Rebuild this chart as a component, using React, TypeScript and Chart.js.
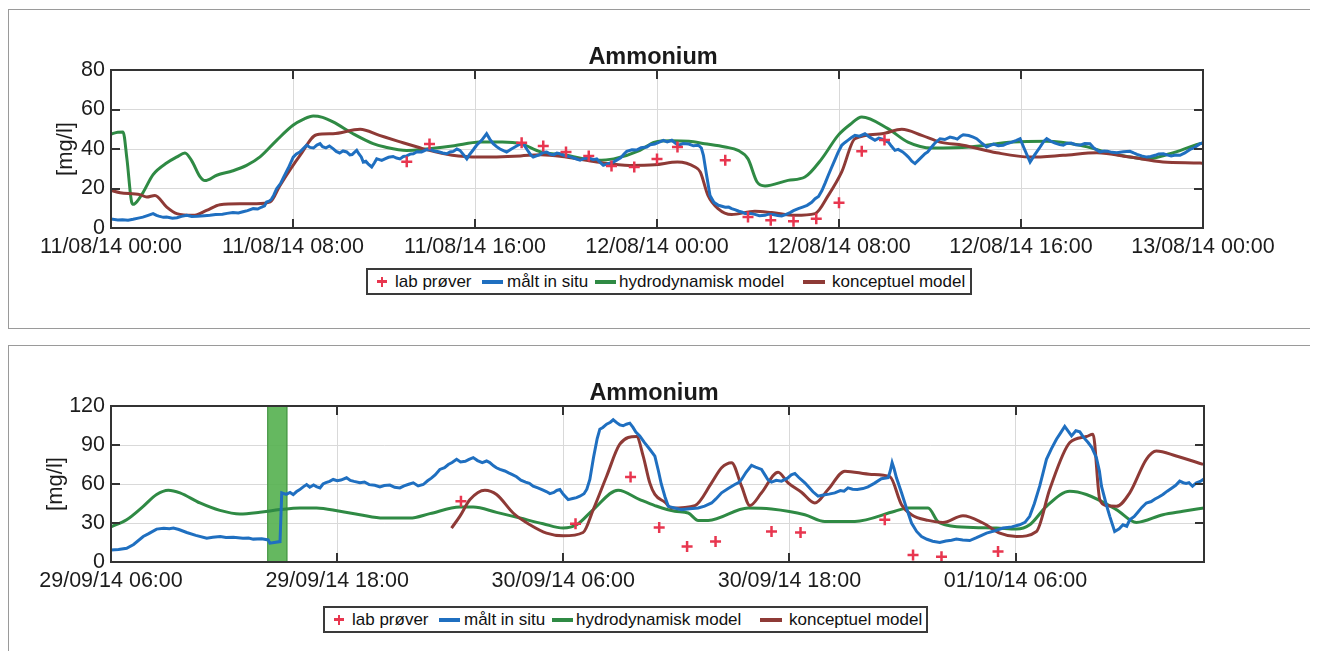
import React, { useEffect, useRef } from "react";
import { Chart, registerables } from "chart.js";

Chart.register(...registerables);

// ---------- shared labels ----------
const legendLabels = ["lab prøver", "målt in situ", "hydrodynamisk model", "konceptuel model"];
const chartTitle = "Ammonium";
const yAxisLabel = "[mg/l]";

// ---------- top chart: [hours since 11/08/14 00:00, mg/l] ----------
const topXTicks = [0, 8, 16, 24, 32, 40, 48];
const topXTickLabels = [
  "11/08/14 00:00", "11/08/14 08:00", "11/08/14 16:00", "12/08/14 00:00",
  "12/08/14 08:00", "12/08/14 16:00", "13/08/14 00:00",
];
const topYTicks = [0, 20, 40, 60, 80];

const topLab: [number, number][] = [
  [13.0, 33.6], [14.0, 42.5], [18.05, 43.2], [19.0, 41.5], [20.0, 38.5], [21.0, 36.5], [22.0, 31.4], [23.0, 30.9],
  [24.0, 35], [24.9, 41], [27.0, 34.3], [28.0, 5.6], [29.0, 3.9], [30.0, 3.4], [31.0, 4.7], [32.0, 12.8], [33.0, 38.8], [34.0, 44.6],
];

const topInsitu: [number, number][] = [
  [0, 4.5], [0.3, 4.1], [0.5, 4.2], [0.75, 3.9], [0.97, 4.4], [1.2, 5.0], [1.4, 5.5], [1.6, 6.3], [1.85, 7.3], [2.0, 6.4],
  [2.1, 6.0], [2.3, 5.4], [2.45, 5.6], [2.7, 5.0], [2.9, 5.2], [3.1, 5.9], [3.33, 6.4], [3.55, 5.8], [3.8, 5.9], [4.1, 6.2],
  [4.35, 6.4], [4.6, 6.8], [4.9, 7.0], [5.1, 7.4], [5.36, 7.8], [5.6, 7.6], [5.8, 8.2], [6.0, 8.8], [6.25, 9.8], [6.45, 9.6],
  [6.6, 10.5], [6.75, 11.2], [6.84, 13.2], [6.95, 13.6], [7.05, 14.5], [7.15, 16.5], [7.28, 19.9], [7.45, 22.5], [7.6, 26], [7.8, 30.5],
  [8.01, 35.9], [8.15, 37.5], [8.3, 38.5], [8.45, 40.2], [8.6, 41.9], [8.75, 40.8], [8.9, 40.5], [9.05, 42.0], [9.19, 42.7], [9.3, 41.2],
  [9.45, 40.6], [9.6, 41.5], [9.76, 40.2], [9.9, 38.8], [10.05, 38.0], [10.2, 39.0], [10.36, 38.5], [10.5, 37.0], [10.6, 37.2], [10.7, 38.3],
  [10.8, 39.3], [10.9, 37.5], [11.0, 36], [11.09, 33.4], [11.2, 33.8], [11.3, 32.5], [11.46, 30.9], [11.58, 33], [11.68, 35], [11.8, 34.6],
  [11.9, 34.2], [12.04, 35], [12.2, 35.8], [12.4, 36.2], [12.55, 35.4], [12.7, 35], [12.85, 36.2], [13.0, 36.5], [13.15, 37.4], [13.29, 37.6],
  [13.45, 38.6], [13.65, 38.5], [13.85, 39.6], [14.02, 39.8], [14.2, 39.0], [14.4, 38.6], [14.58, 38.0], [14.76, 37.6], [14.9, 38.5], [15.05, 38.8],
  [15.2, 40.0], [15.34, 39.3], [15.5, 37.0], [15.64, 35], [15.75, 37.0], [15.85, 38.5], [15.95, 40.0], [16.07, 41.9], [16.3, 44.5], [16.51, 47.7],
  [16.65, 45.0], [16.8, 42.7], [16.95, 41.2], [17.1, 40], [17.25, 39.2], [17.39, 38.5], [17.6, 40.0], [17.83, 41.5], [17.95, 42.3], [18.12, 42.7],
  [18.3, 39.5], [18.45, 37.0], [18.56, 35.9], [18.7, 36.5], [18.85, 37.2], [19.0, 38.2], [19.15, 38.5], [19.3, 37.4], [19.45, 37], [19.6, 37.9],
  [19.74, 37.6], [19.95, 36.6], [20.2, 36], [20.4, 35.2], [20.62, 34.3], [20.8, 35.2], [21.0, 35.5], [21.2, 34.6], [21.35, 35], [21.5, 33.2],
  [21.64, 31.7], [21.85, 32.6], [22.08, 33.4], [22.25, 34.5], [22.4, 35.5], [22.55, 37.5], [22.67, 38.8], [22.9, 39.6], [23.1, 39.5], [23.3, 40.6],
  [23.55, 41], [23.7, 42.2], [23.9, 42.5], [24.1, 43.5], [24.28, 44.4], [24.45, 43.6], [24.65, 44.4], [24.8, 43.0], [24.94, 41.9], [25.15, 42.8],
  [25.4, 42.5], [25.6, 41.6], [25.82, 41.9], [25.95, 40.5], [26.04, 36.8], [26.18, 26.7], [26.33, 16.5], [26.5, 13.0], [26.7, 11.5], [26.85, 11.0],
  [27.0, 10.5], [27.15, 10.6], [27.28, 9.8], [27.45, 9.2], [27.6, 8.5], [27.75, 8.0], [27.87, 7.3], [28.1, 7.4], [28.3, 6.9], [28.5, 6.2],
  [28.75, 6.4], [28.9, 7.0], [29.1, 6.8], [29.3, 6.3], [29.48, 6.1], [29.65, 6.8], [29.85, 7.8], [30.0, 8.8], [30.21, 9.8], [30.4, 10.6],
  [30.6, 11.5], [30.8, 13.0], [30.95, 14.8], [31.1, 16.0], [31.25, 19], [31.4, 23.0], [31.53, 26.7], [31.65, 30.0], [31.8, 34], [31.95, 38.0],
  [32.12, 41.9], [32.25, 43.2], [32.4, 44.5], [32.55, 45.8], [32.7, 46.9], [32.9, 46.5], [33.14, 47.7], [33.35, 46.0], [33.58, 44.4], [33.75, 45.5],
  [33.9, 45], [34.05, 44.0], [34.17, 43.5], [34.3, 41.5], [34.46, 39.3], [34.6, 39.8], [34.8, 38.5], [34.95, 37.0], [35.05, 35.9], [35.2, 33.8],
  [35.34, 32.6], [35.55, 35.0], [35.78, 37.6], [35.9, 38.5], [36.0, 40], [36.2, 42.8], [36.44, 45.2], [36.65, 44.8], [36.88, 46], [37.05, 45.6],
  [37.2, 45], [37.35, 46.5], [37.46, 47.2], [37.7, 46.8], [37.9, 46.0], [38.05, 45.2], [38.25, 43.2], [38.49, 41], [38.65, 41.8], [38.8, 42.5],
  [39.0, 41.6], [39.22, 41.9], [39.4, 42.8], [39.6, 43.5], [39.8, 44.4], [39.96, 45.2], [40.15, 40.0], [40.4, 33.4], [40.6, 37.0], [40.84, 41],
  [41.0, 43.8], [41.13, 45.2], [41.3, 44.0], [41.5, 43], [41.7, 42.2], [41.86, 41.9], [42.0, 42.8], [42.2, 43], [42.4, 42.2], [42.6, 42],
  [42.8, 42.8], [43.03, 42.7], [43.2, 40.5], [43.47, 38.5], [43.65, 39.0], [43.8, 38.9], [44.0, 38.3], [44.21, 38.1], [44.5, 38.6], [44.79, 38.8],
  [44.95, 38.0], [45.1, 37.3], [45.3, 36.5], [45.53, 35.9], [45.7, 36.2], [45.9, 36.8], [46.05, 37.5], [46.26, 37.6], [46.45, 36.9], [46.6, 36.5],
  [46.8, 36.9], [46.99, 36.8], [47.2, 38.0], [47.43, 39.8], [47.6, 40.5], [47.87, 42.7], [48.0, 43],
];

const topHydro: [number, number][] = [
  [0, 47.5], [0.3, 48.5], [0.53, 48.6], [0.7, 35], [0.91, 13], [0.98, 12], [1.15, 13.5], [1.41, 18], [1.85, 27], [2.46, 33],
  [2.9, 36], [3.25, 38], [3.55, 34], [3.91, 26], [4.13, 24], [4.65, 26.7], [5.36, 29], [5.96, 31.7], [6.55, 36], [7.28, 44.4],
  [8.0, 52], [8.45, 55], [8.89, 56.7], [9.3, 56], [9.76, 53.7], [10.64, 47.7], [11.52, 42.7], [12.04, 41], [13.0, 39.3], [15.0, 41.5],
  [16.2, 43.5], [17.2, 43.6], [18.0, 42.7], [18.9, 38.5], [20.0, 36.8], [21.35, 34.3], [22.1, 35], [23.25, 39.3], [23.9, 43.5], [24.6, 44.2],
  [25.4, 43.9], [26.1, 42.7], [27.0, 41], [27.56, 39.3], [28.0, 35], [28.4, 23.3], [28.75, 21.3], [29.76, 24.1], [30.5, 25.8], [31.24, 35],
  [31.96, 46.9], [32.5, 52.5], [33.0, 56.2], [34.15, 50.3], [35.03, 43.5], [36.07, 40.5], [37.76, 41], [39.65, 43.5], [41.14, 43.9], [42.6, 41.9],
  [44.04, 37.6], [45.54, 35], [46.55, 37.6], [47.87, 42.7], [48.0, 43],
];

const topKoncept: [number, number][] = [
  [0, 19], [0.4, 17.9], [1.27, 16.9], [1.57, 15.7], [1.93, 16.5], [2.45, 10.6], [2.89, 7.3], [3.62, 6.4], [4.2, 8.9], [4.79, 11.8],
  [5.67, 12.3], [6.4, 12.3], [7.0, 13.2], [7.43, 21.6], [8.31, 36.8], [9.04, 47.2], [9.76, 47.7], [10.95, 50], [11.8, 46.9], [12.6, 44],
  [13.7, 40.2], [15.0, 36.8], [16.2, 35.9], [18.0, 36.5], [18.9, 37.1], [20.0, 35.9], [21.35, 33.4], [22.8, 31.7], [23.9, 32], [24.9, 33.4],
  [25.67, 30.9], [25.9, 28.4], [26.24, 16.5], [26.68, 9.8], [27.28, 6.8], [28.3, 8.5], [29.04, 7.8], [30.07, 6.4], [30.95, 7.3], [31.53, 16.5],
  [32.12, 28.4], [32.7, 45.2], [33.88, 47.7], [34.76, 50], [35.64, 46.9], [36.44, 43.5], [37.45, 41.9], [38.93, 38.1], [40.4, 35.9], [41.85, 36.8],
  [43.34, 38.1], [44.79, 35.9], [46.24, 33.4], [47.87, 32.9], [48.0, 32.8],
];

// ---------- bottom chart: [hours since 29/09/14 06:00, mg/l] ----------
const botXMax = 58;
const botXTicks = [0, 12, 24, 36, 48];
const botXTickLabels = ["29/09/14 06:00", "29/09/14 18:00", "30/09/14 06:00", "30/09/14 18:00", "01/10/14 06:00"];
const botYTicks = [0, 30, 60, 90, 120];
const botBandHours = [8.29, 9.36];

const botLab: [number, number][] = [
  [18.57, 46.7], [24.65, 29.4], [27.57, 65.3], [29.09, 26.6], [30.57, 11.9], [32.08, 15.7],
  [35.05, 23.5], [36.59, 22.7], [41.06, 32.5], [42.56, 5.4], [44.07, 4.1], [47.07, 8],
];

const botInsitu: [number, number][] = [
  [0, 9.3], [0.4, 9.6], [0.83, 10.6], [1.2, 13.5], [1.71, 19.6], [2.0, 21.8], [2.42, 25.3], [2.8, 26.0], [3.1, 25.6], [3.31, 26.1],
  [3.6, 25.0], [4.02, 22.7], [4.5, 20.5], [5.08, 18.3], [5.4, 19.0], [5.8, 19.6], [6.1, 18.9], [6.49, 19.1], [7.0, 18.2], [7.3, 18.4],
  [7.55, 17.6], [8.0, 17.8], [8.34, 17], [8.43, 14.5], [8.97, 15.7], [9.06, 53.2], [9.3, 52.0], [9.5, 53.5], [9.67, 51.9], [9.85, 54.2],
  [10.0, 55.5], [10.2, 57.8], [10.38, 59.6], [10.55, 57.5], [10.75, 59.2], [10.9, 58.0], [11.09, 57], [11.25, 60.0], [11.4, 61], [11.6, 62.0],
  [11.79, 63.5], [12.0, 62.5], [12.2, 63.0], [12.5, 64.8], [12.7, 62.8], [12.9, 62.0], [13.21, 60.9], [13.45, 61.5], [13.7, 59.5], [14.0, 59.0],
  [14.27, 57.8], [14.5, 58.8], [14.8, 59.2], [15.05, 57.5], [15.33, 57], [15.55, 58.5], [15.8, 59.8], [16.04, 60.9], [16.3, 58.5], [16.57, 59.6],
  [16.8, 62.5], [17.0, 64.5], [17.2, 67.0], [17.45, 71.2], [17.7, 72.5], [17.9, 75], [18.1, 76.5], [18.34, 79], [18.55, 77.0], [18.8, 77.5],
  [19.0, 79.0], [19.22, 80.3], [19.45, 78.0], [19.7, 76.5], [19.93, 77.7], [20.1, 76.5], [20.3, 74], [20.45, 72.5], [20.64, 71.2], [20.9, 70.0],
  [21.1, 68.5], [21.3, 67.2], [21.52, 65.6], [21.75, 63.0], [22.0, 61.5], [22.2, 60.5], [22.4, 58.3], [22.65, 57.0], [22.9, 55.5], [23.1, 54.2],
  [23.29, 52.6], [23.5, 53.5], [23.65, 55.0], [23.82, 55.7], [24.0, 52.0], [24.26, 48], [24.5, 48.8], [24.7, 49.5], [24.88, 50.6], [25.1, 52.5],
  [25.25, 56.0], [25.41, 63.5], [25.6, 80.0], [25.8, 95.0], [25.94, 102.2], [26.1, 103.5], [26.3, 106], [26.5, 107.5], [26.65, 109.4], [26.85, 107.0],
  [27.0, 105.5], [27.18, 104.8], [27.35, 106.0], [27.53, 106.8], [27.7, 103.5], [27.85, 100.0], [28.06, 97], [28.3, 92.0], [28.59, 86.7], [28.86, 81.5],
  [29.05, 70.0], [29.2, 60], [29.4, 50.0], [29.57, 42.8], [29.9, 41.5], [30.28, 40.3], [30.7, 41.0], [31.16, 41.6], [31.5, 43.0], [31.87, 45.4],
  [32.1, 48.5], [32.4, 53.2], [32.75, 56.5], [33.1, 59.6], [33.3, 61.0], [33.46, 63.5], [33.7, 69.0], [33.99, 74.3], [34.2, 73.0], [34.52, 71.2],
  [34.7, 67.0], [34.85, 63.5], [35.05, 61.4], [35.3, 62.8], [35.58, 62.2], [35.9, 64.5], [36.1, 67.0], [36.29, 68.1], [36.5, 65.0], [36.82, 60.9],
  [37.0, 58.0], [37.25, 54.0], [37.52, 50.6], [37.8, 51.5], [38.1, 52.2], [38.41, 53.2], [38.7, 55.0], [38.9, 54.5], [39.11, 57], [39.35, 56.0],
  [39.6, 55.8], [39.9, 56.5], [40.17, 57.8], [40.5, 60.5], [40.88, 64], [41.24, 64.8], [41.35, 70.0], [41.45, 76.4], [41.55, 72.0], [41.68, 64.8],
  [41.95, 53.2], [42.2, 42.0], [42.48, 30], [42.75, 23.5], [43.01, 19.6], [43.3, 17.5], [43.6, 16.0], [43.98, 15], [44.3, 16.2], [44.6, 16.8],
  [44.86, 17.6], [45.2, 17.0], [45.57, 16.5], [45.9, 18.5], [46.2, 20.5], [46.46, 22.2], [46.9, 24.0], [47.34, 26.1], [47.8, 27.0], [48.22, 28.6],
  [48.5, 30.5], [48.75, 35.1], [49.0, 45.0], [49.28, 58.3], [49.45, 68.0], [49.64, 79], [49.9, 87.0], [50.17, 94.4], [50.4, 99.5], [50.61, 104.3],
  [50.8, 100.5], [50.97, 97], [51.2, 101.0], [51.41, 100.1], [51.6, 96.0], [51.85, 91.9], [52.05, 88.0], [52.29, 80.3], [52.45, 70.0], [52.56, 58.3],
  [52.8, 45.0], [53.0, 35.1], [53.26, 23.5], [53.5, 25.5], [53.7, 28.6], [53.9, 27.5], [54.06, 32.5], [54.3, 35.0], [54.5, 38.5], [54.7, 42.0],
  [54.94, 45.4], [55.2, 46.5], [55.4, 48.5], [55.6, 50.0], [55.82, 51.9], [56.05, 54.5], [56.3, 57], [56.5, 59.0], [56.71, 62.2], [56.9, 61.0],
  [57.05, 60.5], [57.2, 61.0], [57.39, 58.3], [57.6, 61.0], [57.8, 62.0], [57.95, 63.5], [58.0, 62.5],
];

const botHydro: [number, number][] = [
  [0, 27], [0.83, 32.5], [1.71, 42.8], [2.42, 51.9], [3.04, 55.2], [3.66, 53.2], [4.72, 45.4], [5.78, 39.7], [6.84, 36.9], [7.9, 38.2],
  [8.97, 40.3], [10.03, 41.6], [10.91, 41.6], [12.15, 39], [13.21, 36.4], [14.45, 33.8], [15.86, 33.8], [16.92, 37.2], [18.51, 42.3], [19.22, 42.3],
  [20.46, 38.2], [21.7, 33.8], [22.93, 29.4], [23.99, 26.1], [24.71, 28.6], [25.59, 40.3], [26.91, 55.2], [28.06, 48], [28.86, 43.4], [29.92, 39],
  [30.63, 37.7], [31.16, 32], [31.69, 32], [33.81, 41.6], [35.05, 40.8], [36.82, 36.4], [37.88, 31.2], [39.47, 31.2], [41.59, 39], [42.3, 41.6],
  [43.36, 41.6], [43.87, 31.2], [44.5, 27.9], [45.75, 26.6], [46.99, 26.1], [48.05, 25.3], [48.75, 28.6], [49.64, 42.8], [50.88, 54.4], [51.76, 51.9],
  [53.35, 40.3], [54.41, 30.4], [55.82, 36.4], [56.88, 39], [58.0, 41.6],
];

const botKoncept: [number, number][] = [
  [18.07, 26.1], [18.51, 35.1], [19.05, 48], [19.84, 55.2], [20.46, 51.9], [21.34, 37.7], [22.23, 28.6], [23.11, 22.2], [23.99, 20.1], [25.05, 22.7],
  [25.59, 40.3], [26.3, 66], [27.0, 90.6], [27.89, 96.5], [28.24, 81.5], [28.59, 60.9], [28.86, 52], [29.39, 46], [29.74, 41.6], [30.98, 43.4],
  [31.87, 60.9], [32.4, 72.5], [32.93, 76.4], [33.46, 58.3], [33.9, 43.4], [34.52, 53.2], [35.4, 69.1], [35.93, 60.9], [36.64, 53.7], [37.35, 45.4],
  [38.05, 55.7], [38.94, 69.9], [40.36, 67.4], [41.33, 65.6], [41.95, 44.1], [42.48, 36.4], [43.36, 32], [44.15, 30.4], [45.21, 35.6], [46.27, 30],
  [47.16, 22.2], [48.05, 19.6], [49.11, 23.5], [49.81, 55.7], [50.88, 91.9], [51.76, 96.5], [52.11, 98.3], [52.47, 48], [52.82, 43.4], [53.35, 42.8],
  [54.06, 53.2], [54.94, 79], [55.47, 85.4], [56.53, 81.5], [57.95, 75.1],
];

// ---------- styles ----------
const RED = "#e8364f";
const BLUE = "#1f6fc0";
const GREEN = "#2f8a44";
const BROWN = "#8e3a36";
const GRID = "#d9d9d9";
const AXIS = "#333333";
const TEXT = "#1c1c1c";
const BAND = "rgba(88, 178, 82, 0.92)";
const FONT = "'Liberation Sans', Arial, sans-serif";

function pts(pairs: [number, number][]) {
  return pairs.map(([x, y]) => ({ x, y }));
}

type PanelSpec = {
  id: string;
  xMax: number;
  xTicks: number[];
  xLabels: string[];
  yTicks: number[];
  lab: { x: number; y: number }[];
  insitu: { x: number; y: number }[];
  hydro: { x: number; y: number }[];
  koncept: { x: number; y: number }[];
  band?: number[];
  padding: { left: number; top: number; right: number; bottom: number };
  titleX: number;
  titleY: number;
  yLabelX: number;
  height: number;
};

function makeDecor(p: PanelSpec) {
  return {
    id: "decor" + p.id,
    beforeDatasetsDraw(chart: any) {
      if (!p.band) return;
      const { ctx, chartArea: a, scales } = chart;
      const x0 = scales.x.getPixelForValue(p.band[0]);
      const x1 = scales.x.getPixelForValue(p.band[1]);
      ctx.save();
      ctx.fillStyle = BAND;
      ctx.fillRect(x0, a.top, x1 - x0, a.bottom - a.top);
      ctx.strokeStyle = "rgba(60,140,60,0.9)";
      ctx.lineWidth = 1;
      ctx.strokeRect(x0 + 0.5, a.top, x1 - x0 - 1, a.bottom - a.top);
      ctx.restore();
    },
    afterDatasetsDraw(chart: any) {
      const { ctx, chartArea: a, scales } = chart;
      ctx.save();
      ctx.strokeStyle = AXIS;
      ctx.lineWidth = 2;
      const tl = 9;
      ctx.beginPath();
      p.xTicks.forEach((v) => {
        const x = Math.round(scales.x.getPixelForValue(v));
        ctx.moveTo(x, a.bottom);
        ctx.lineTo(x, a.bottom - tl);
        ctx.moveTo(x, a.top);
        ctx.lineTo(x, a.top + tl);
      });
      p.yTicks.forEach((v) => {
        const y = Math.round(scales.y.getPixelForValue(v));
        ctx.moveTo(a.left, y);
        ctx.lineTo(a.left + tl, y);
        ctx.moveTo(a.right, y);
        ctx.lineTo(a.right - tl, y);
      });
      ctx.stroke();
      ctx.strokeRect(a.left, a.top, a.right - a.left, a.bottom - a.top);
      ctx.restore();
    },
    afterDraw(chart: any) {
      const { ctx, chartArea: a } = chart;
      ctx.save();
      ctx.fillStyle = "#1a1a1a";
      ctx.font = "bold 23.5px " + FONT;
      ctx.textAlign = "center";
      ctx.textBaseline = "alphabetic";
      ctx.fillText(chartTitle, p.titleX, p.titleY);
      ctx.fillStyle = TEXT;
      ctx.font = "22px " + FONT;
      ctx.translate(p.yLabelX, (a.top + a.bottom) / 2);
      ctx.rotate(-Math.PI / 2);
      ctx.textBaseline = "middle";
      ctx.fillText(yAxisLabel, 0, 0);
      ctx.restore();
    },
  };
}

function makeConfig(p: PanelSpec): any {
  const tickFont = { family: FONT, size: 21.5 };
  return {
    type: "line",
    data: {
      datasets: [
        {
          label: legendLabels[0],
          data: p.lab,
          showLine: false,
          pointStyle: "cross",
          pointRadius: 5.5,
          pointBorderWidth: 2.5,
          borderColor: RED,
          backgroundColor: RED,
          order: 0,
        },
        {
          label: legendLabels[1],
          data: p.insitu,
          borderColor: BLUE,
          borderWidth: 3,
          pointRadius: 0,
          tension: 0,
          order: 1,
        },
        {
          label: legendLabels[3],
          data: p.koncept,
          borderColor: BROWN,
          borderWidth: 3,
          pointRadius: 0,
          cubicInterpolationMode: "monotone",
          order: 2,
        },
        {
          label: legendLabels[2],
          data: p.hydro,
          borderColor: GREEN,
          borderWidth: 3,
          pointRadius: 0,
          cubicInterpolationMode: "monotone",
          order: 3,
        },
      ],
    },
    options: {
      responsive: false,
      animation: false,
      events: [],
      parsing: false,
      layout: { padding: p.padding },
      plugins: {
        legend: { display: false },
        title: { display: false },
        tooltip: { enabled: false },
      },
      scales: {
        x: {
          type: "linear",
          min: 0,
          max: p.xMax,
          afterBuildTicks: (s: any) => {
            s.ticks = p.xTicks.map((v) => ({ value: v }));
          },
          afterFit: (s: any) => {
            s.height = 40;
          },
          grid: { color: GRID, lineWidth: 1, drawTicks: false },
          border: { display: false },
          ticks: {
            autoSkip: false,
            maxRotation: 0,
            minRotation: 0,
            padding: 6,
            color: TEXT,
            font: tickFont,
            callback: (_v: any, i: number) => p.xLabels[i],
          },
        },
        y: {
          type: "linear",
          min: 0,
          max: p.yTicks[p.yTicks.length - 1],
          afterBuildTicks: (s: any) => {
            s.ticks = p.yTicks.map((v) => ({ value: v }));
          },
          afterFit: (s: any) => {
            s.width = 102;
          },
          grid: { color: GRID, lineWidth: 1, drawTicks: false },
          border: { display: false },
          ticks: {
            padding: 6,
            color: TEXT,
            font: tickFont,
            callback: (v: any) => String(v),
          },
        },
      },
    },
    plugins: [makeDecor(p)],
  };
}

function ChartCanvas({ spec }: { spec: PanelSpec }) {
  const ref = useRef<HTMLCanvasElement | null>(null);
  useEffect(() => {
    if (!ref.current) return;
    const chart = new Chart(ref.current, makeConfig(spec));
    return () => chart.destroy();
  }, [spec]);
  return (
    <canvas
      ref={ref}
      width={1309}
      height={spec.height}
      style={{ position: "absolute", left: 0, top: 0, width: 1309, height: spec.height }}
    />
  );
}

function Legend({ left, top, width }: { left: number; top: number; width: number }) {
  const h = 27;
  const textStyle: React.CSSProperties = {
    position: "absolute",
    top: 0,
    lineHeight: h - 4 + "px",
    fontFamily: FONT,
    fontSize: 17,
    color: "#111",
    whiteSpace: "nowrap",
  };
  const bar = (l: number, w: number, c: string) => (
    <span style={{ position: "absolute", left: l, top: (h - 4) / 2 - 2, width: w, height: 4, background: c }} />
  );
  return (
    <div
      style={{
        position: "absolute",
        left,
        top,
        width,
        height: h,
        border: "2px solid #3a3a3a",
        boxSizing: "border-box",
        background: "#fff",
      }}
    >
      <span style={{ position: "absolute", left: 9, top: (h - 4) / 2 - 1.25, width: 10, height: 2.5, background: RED }} />
      <span style={{ position: "absolute", left: 12.75, top: (h - 4) / 2 - 5, width: 2.5, height: 10, background: RED }} />
      <span style={{ ...textStyle, left: 27 }}>{legendLabels[0]}</span>
      {bar(114, 21, BLUE)}
      <span style={{ ...textStyle, left: 139 }}>{legendLabels[1]}</span>
      {bar(227, 21, GREEN)}
      <span style={{ ...textStyle, left: 251 }}>{legendLabels[2]}</span>
      {bar(435, 22, BROWN)}
      <span style={{ ...textStyle, left: 464 }}>{legendLabels[3]}</span>
    </div>
  );
}

const topSpec: PanelSpec = {
  id: "top",
  xMax: 48,
  xTicks: topXTicks,
  xLabels: topXTickLabels,
  yTicks: topYTicks,
  lab: pts(topLab),
  insitu: pts(topInsitu),
  hydro: pts(topHydro),
  koncept: pts(topKoncept),
  padding: { left: 0, top: 60, right: 115, bottom: 60 },
  titleX: 644,
  titleY: 53.5,
  yLabelX: 57,
  height: 318,
};

const botSpec: PanelSpec = {
  id: "bot",
  xMax: botXMax,
  xTicks: botXTicks,
  xLabels: botXTickLabels,
  yTicks: botYTicks,
  lab: pts(botLab),
  insitu: pts(botInsitu),
  hydro: pts(botHydro),
  koncept: pts(botKoncept),
  band: botBandHours,
  padding: { left: 0, top: 60, right: 114, bottom: 49 },
  titleX: 645,
  titleY: 54,
  yLabelX: 47,
  height: 305,
};

export default function App() {
  return (
    <div style={{ position: "relative", width: 1310, height: 643, overflow: "hidden", background: "#fff" }}>
      <div
        style={{
          position: "absolute",
          left: 0,
          top: 1,
          width: 1310,
          height: 320,
          borderTop: "1px solid #9a9a9a",
          borderLeft: "1px solid #9a9a9a",
          borderBottom: "1px solid #9a9a9a",
          boxSizing: "border-box",
        }}
      >
        <ChartCanvas spec={topSpec} />
        <Legend left={357} top={258} width={606} />
      </div>
      <div
        style={{
          position: "absolute",
          left: 0,
          top: 337,
          width: 1310,
          height: 306,
          borderTop: "1px solid #9a9a9a",
          borderLeft: "1px solid #9a9a9a",
          boxSizing: "border-box",
        }}
      >
        <ChartCanvas spec={botSpec} />
        <Legend left={314} top={260} width={605} />
      </div>
    </div>
  );
}
